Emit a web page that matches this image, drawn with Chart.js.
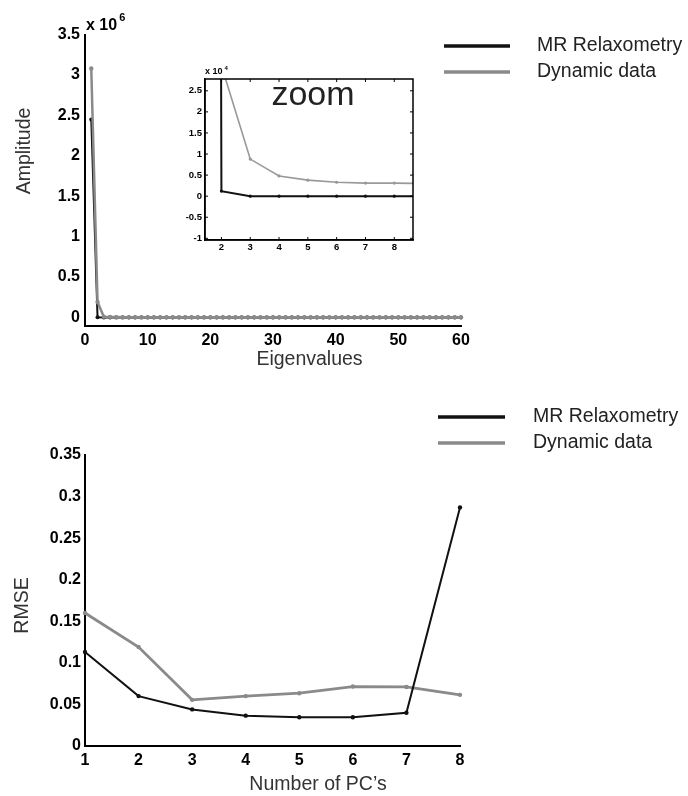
<!DOCTYPE html>
<html>
<head>
<meta charset="utf-8">
<script src="https://cdn.jsdelivr.net/npm/chart.js@4.4.1/dist/chart.umd.min.js"></script>
<style>
  body { margin: 0; background: #fff; }
  #fig { position: relative; width: 688px; height: 796px; }
  #fig canvas { position: absolute; }
</style>
</head>
<body>
<div id="fig">
  <canvas id="eig" width="688" height="400" style="left:0;top:0"></canvas>
  <canvas id="eig-zoom" width="250" height="200" style="left:180px;top:60px"></canvas>
  <canvas id="rmse" width="688" height="396" style="left:0;top:400px"></canvas>
</div>
<script>
/* ── Data ── */

// eigenvalue spectrum (index 1..60)
const eigIdx = [
  1, 2, 3, 4, 5, 6, 7, 8, 9, 10,
  11, 12, 13, 14, 15, 16, 17, 18, 19, 20,
  21, 22, 23, 24, 25, 26, 27, 28, 29, 30,
  31, 32, 33, 34, 35, 36, 37, 38, 39, 40,
  41, 42, 43, 44, 45, 46, 47, 48, 49, 50,
  51, 52, 53, 54, 55, 56, 57, 58, 59, 60
];
const mrAmp = [
  2450000, 1200, 0, 0, 0, 0, 0, 0, 0, 0,
  0, 0, 0, 0, 0, 0, 0, 0, 0, 0,
  0, 0, 0, 0, 0, 0, 0, 0, 0, 0,
  0, 0, 0, 0, 0, 0, 0, 0, 0, 0,
  0, 0, 0, 0, 0, 0, 0, 0, 0, 0,
  0, 0, 0, 0, 0, 0, 0, 0, 0, 0
];
const dynAmp = [
  3080000, 190000, 8800, 4800, 3800, 3300, 3100, 3100, 3000, 3000,
  3000, 3000, 3000, 3000, 3000, 3000, 3000, 3000, 3000, 3000,
  3000, 3000, 3000, 3000, 3000, 3000, 3000, 3000, 3000, 3000,
  3000, 3000, 3000, 3000, 3000, 3000, 3000, 3000, 3000, 3000,
  3000, 3000, 3000, 3000, 3000, 3000, 3000, 3000, 3000, 3000,
  3000, 3000, 3000, 3000, 3000, 3000, 3000, 3000, 3000, 3000
];
const ampTicks = [0, 500000, 1000000, 1500000, 2000000, 2500000, 3000000, 3500000];
const eigTicks = [0, 10, 20, 30, 40, 50, 60];

// close-up of the first components, in units of 10^4
const zoomIdx = [1, 2, 3, 4, 5, 6, 7, 8, 9];
const mrZoom = [245, 0.12, 0, 0, 0, 0, 0, 0, 0];
const dynZoom = [308, 3.1, 0.88, 0.48, 0.38, 0.33, 0.31, 0.31, 0.30];
const zoomYTicks = [-1, -0.5, 0, 0.5, 1, 1.5, 2, 2.5];
const zoomXTicks = [2, 3, 4, 5, 6, 7, 8];

// reconstruction error vs number of principal components
const pcs = [1, 2, 3, 4, 5, 6, 7, 8];
const mrRmse = [0.113, 0.060, 0.044, 0.0365, 0.0345, 0.0345, 0.040, 0.287];
const dynRmse = [0.160, 0.119, 0.0555, 0.060, 0.0635, 0.0715, 0.071, 0.0615];
const rmseTicks = [0, 0.05, 0.1, 0.15, 0.2, 0.25, 0.3, 0.35];

const seriesNames = ['MR Relaxometry', 'Dynamic data'];

/* ── Styling helpers ── */
const FONT = "'Liberation Sans', Arial, Helvetica, sans-serif";
const BLACK = '#111';
const GREY = '#8a8a8a';

const xy = (xs, ys) => xs.map((x, i) => ({ x, y: ys[i] }));

function axis({ min, max, ticks, size, fontSize = 16, pad = 4, border = 2, fmt, horizontal }) {
  return {
    type: 'linear',
    min, max,
    grid: { display: false, drawTicks: false },
    border: { display: true, color: '#000', width: border },
    ticks: {
      color: '#000',
      font: { family: FONT, size: fontSize, weight: 'bold' },
      padding: pad,
      autoSkip: false,
      maxRotation: 0,
      callback: fmt || (v => String(v)),
    },
    afterBuildTicks: s => { s.ticks = ticks.map(v => ({ value: v })); },
    afterFit: s => { if (horizontal) s.height = size; else s.width = size; },
  };
}

function line(label, data, color, width, radius, order, clip) {
  return {
    label, data, order, clip,
    borderColor: color,
    backgroundColor: color,
    borderWidth: width,
    pointRadius: radius,
    pointBorderWidth: 0,
    tension: 0,
  };
}

/* ── Plugins: free text, line legend, boxed frame ── */
const figText = {
  id: 'figText',
  afterDraw(chart, args, opts) {
    const ctx = chart.ctx;
    for (const t of opts.items || []) {
      ctx.save();
      ctx.font = t.font;
      ctx.fillStyle = t.color || '#000';
      ctx.textAlign = t.align || 'center';
      ctx.textBaseline = 'middle';
      ctx.translate(t.x, t.y);
      if (t.rotate) ctx.rotate(t.rotate);
      ctx.fillText(t.text, 0, 0);
      if (t.sup) {
        const w = ctx.measureText(t.text).width;
        ctx.font = t.supFont;
        ctx.textAlign = 'left';
        ctx.fillText(t.sup, w + 2, t.supDy);
      }
      ctx.restore();
    }
  }
};

const lineLegend = {
  id: 'lineLegend',
  afterDraw(chart, args, opts) {
    if (!opts.show) return;
    const ctx = chart.ctx;
    chart.data.datasets.forEach((ds, i) => {
      const y = opts.y + i * opts.rowGap;
      ctx.save();
      ctx.strokeStyle = ds.borderColor;
      ctx.lineWidth = opts.lineWidth;
      ctx.beginPath();
      ctx.moveTo(opts.x, y);
      ctx.lineTo(opts.x + opts.lineLen, y);
      ctx.stroke();
      ctx.fillStyle = '#222';
      ctx.font = `19.5px ${FONT}`;
      ctx.textAlign = 'left';
      ctx.textBaseline = 'middle';
      ctx.fillText(ds.label, opts.textX, y);
      ctx.restore();
    });
  }
};

// full box with short inward tick marks on all four sides
const frame = {
  id: 'frame',
  afterDraw(chart, args, opts) {
    if (!opts.show) return;
    const { ctx, chartArea: a, scales } = chart;
    const t = opts.tick;
    ctx.save();
    ctx.strokeStyle = '#000';
    ctx.lineWidth = 1.5;
    ctx.strokeRect(a.left, a.top, a.right - a.left, a.bottom - a.top);
    ctx.lineWidth = 1;
    ctx.beginPath();
    for (const tk of scales.x.ticks) {
      const px = scales.x.getPixelForValue(tk.value);
      ctx.moveTo(px, a.bottom); ctx.lineTo(px, a.bottom - t);
      ctx.moveTo(px, a.top); ctx.lineTo(px, a.top + t);
    }
    for (const tk of scales.y.ticks) {
      const py = scales.y.getPixelForValue(tk.value);
      ctx.moveTo(a.left, py); ctx.lineTo(a.left + t, py);
      ctx.moveTo(a.right, py); ctx.lineTo(a.right - t, py);
    }
    ctx.stroke();
    ctx.restore();
  }
};

const base = {
  responsive: false,
  animation: false,
  devicePixelRatio: 1,
  events: [],
};

/* ── Eigenvalue spectrum ── */
new Chart(document.getElementById('eig'), {
  type: 'line',
  data: {
    datasets: [
      line(seriesNames[0], xy(eigIdx, mrAmp), BLACK, 2, 2, 1, false),
      line(seriesNames[1], xy(eigIdx, dynAmp), GREY, 2.5, 2.2, 0, false),
    ]
  },
  plugins: [figText, lineLegend, frame],
  options: {
    ...base,
    layout: { padding: { top: 34.5, right: 227, left: 0, bottom: 0 } },
    scales: {
      x: axis({ min: 0, max: 60, ticks: eigTicks, size: 74.5, pad: 5, horizontal: true }),
      y: axis({ min: -100000, max: 3500000, ticks: ampTicks, size: 85, pad: 5, fmt: v => String(v / 1e6) }),
    },
    plugins: {
      legend: { display: false },
      tooltip: { enabled: false },
      lineLegend: { show: true, x: 444, y: 46, rowGap: 26, lineLen: 66, lineWidth: 3.5, textX: 537 },
      figText: {
        items: [
          { text: 'x 10', sup: '6', x: 86, y: 26, align: 'left', font: `bold 16px ${FONT}`, supFont: `bold 11px ${FONT}`, supDy: -8 },
          { text: 'Amplitude', x: 25, y: 151, rotate: -Math.PI / 2, font: `19.5px ${FONT}`, color: '#333' },
          { text: 'Eigenvalues', x: 309.5, y: 360, font: `19.5px ${FONT}`, color: '#333' },
        ]
      }
    }
  }
});

/* ── Inset: first components at 10^4 scale ── */
new Chart(document.getElementById('eig-zoom'), {
  type: 'line',
  data: {
    datasets: [
      line(seriesNames[0], xy(zoomIdx, mrZoom), BLACK, 2, 1.6, 0),
      line(seriesNames[1], xy(zoomIdx, dynZoom), '#999', 1.6, 1.6, 1),
    ]
  },
  plugins: [figText, lineLegend, frame],
  options: {
    ...base,
    layout: { padding: { top: 19, right: 17, left: 0, bottom: 0 } },
    scales: {
      x: axis({ min: 1.43, max: 8.65, ticks: zoomXTicks, size: 20, fontSize: 9.5, pad: 2, border: 1.5, horizontal: true }),
      y: axis({ min: -1.04, max: 2.78, ticks: zoomYTicks, size: 25, fontSize: 9.5, pad: 3, border: 1.5 }),
    },
    plugins: {
      legend: { display: false },
      tooltip: { enabled: false },
      frame: { show: true, tick: 3 },
      figText: {
        items: [
          { text: 'x 10', sup: '4', x: 25, y: 12, align: 'left', font: `bold 9px ${FONT}`, supFont: `bold 6px ${FONT}`, supDy: -4 },
          { text: 'zoom', x: 133, y: 36, font: `34px ${FONT}`, color: '#222' },
        ]
      }
    }
  }
});

/* ── RMSE vs number of PCs ── */
new Chart(document.getElementById('rmse'), {
  type: 'line',
  data: {
    datasets: [
      line(seriesNames[0], xy(pcs, mrRmse), BLACK, 2, 2.2, 0, false),
      line(seriesNames[1], xy(pcs, dynRmse), GREY, 2.8, 2.2, 1, false),
    ]
  },
  plugins: [figText, lineLegend, frame],
  options: {
    ...base,
    layout: { padding: { top: 55, right: 228, left: 0, bottom: 0 } },
    scales: {
      x: axis({ min: 1, max: 8, ticks: pcs, size: 50, pad: 5, horizontal: true }),
      y: axis({ min: 0, max: 0.35, ticks: rmseTicks, size: 85, pad: 4 }),
    },
    plugins: {
      legend: { display: false },
      tooltip: { enabled: false },
      lineLegend: { show: true, x: 438, y: 17, rowGap: 26, lineLen: 67, lineWidth: 3.5, textX: 533 },
      figText: {
        items: [
          { text: 'RMSE', x: 23, y: 205.5, rotate: -Math.PI / 2, font: `19.5px ${FONT}`, color: '#333' },
          { text: 'Number of PC\u2019s', x: 318, y: 385, font: `19.5px ${FONT}`, color: '#333' },
        ]
      }
    }
  }
});
</script>
</body>
</html>
